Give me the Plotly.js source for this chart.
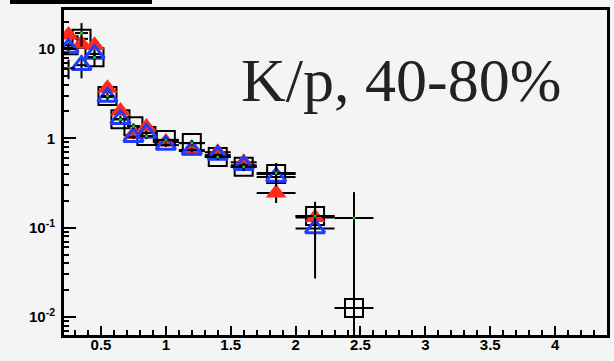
<!DOCTYPE html>
<html>
<head>
<meta charset="utf-8">
<script src="https://cdn.plot.ly/plotly-3.0.1.min.js"></script>
<style>
  html, body { margin: 0; padding: 0; background: #f4f4f4; }
  #plot { width: 614px; height: 361px; }
</style>
</head>
<body>
<div id="plot"></div>
<script>
// pT bin centres (GeV/c) and half-widths
const pt    = [0.25, 0.35, 0.45, 0.55, 0.65, 0.75, 0.85, 1.0, 1.2, 1.4, 1.6, 1.85, 2.15, 2.45];
const ptErr = [0.05, 0.05, 0.05, 0.05, 0.05, 0.05, 0.05, 0.1, 0.1, 0.1, 0.1, 0.15, 0.15, 0.15];

// reference points (black error bars, small green centre dot)
const refVal = [6.1, 15.1, 8.1, 2.98, 1.64, 1.37, 1.06, 0.96, 0.885, 0.62, 0.48, 0.41, 0.135, 0.128];
const refErr = [1.5, 4.4, 1.7, 0.3, 0.15, 0.1, 0.08, 0.06, 0.06, 0.05, 0.05, 0.12, 0.06, 0.122];

// open black squares
const sqVal = [11.0, 13.0, 8.1, 2.98, 1.64, 1.37, 1.06, 0.96, 0.885, 0.62, 0.48, 0.40, 0.135, 0.0126];
const sqErr = [0.8, 0.9, 0.5, 0.15, 0.08, 0.07, 0.05, 0.04, 0.04, 0.03, 0.03, 0.03, 0.01, 0.002];

// full red triangles
const redVal = [14.4, 11.4, 11.0, 3.65, 2.02, 1.11, 1.34, 0.91, 0.72, 0.70, 0.54, 0.245, 0.13, null];
const redErr = [1.0, 0.9, 0.8, 0.2, 0.1, 0.06, 0.07, 0.05, 0.04, 0.04, 0.03, 0.056, 0.02, null];

// open blue triangles
const blueVal = [10.3, 6.6, 8.8, 2.9, 1.64, 1.03, 1.15, 0.84, 0.74, 0.65, 0.50, 0.37, 0.098, null];
const blueErr = [0.8, 1.9, 0.6, 0.15, 0.08, 0.05, 0.06, 0.04, 0.04, 0.03, 0.03, 0.03, 0.071, null];

// axis tick labels
const yTickVals = [0.01, 0.1, 1, 10];
const yTickText = ['10<sup>-2</sup>', '10<sup>-1</sup>', '1', '10'];
const label = 'K/p, 40-80%';

function bars(err, xe) {
  return {
    ex: { type: 'data', array: xe, visible: true, color: 'black', thickness: 2, width: 0 },
    ey: { type: 'data', array: err, visible: true, color: 'black', thickness: 2, width: 0 }
  };
}

const sqB = bars(sqErr, ptErr), redB = bars(redErr, ptErr), blueB = bars(blueErr, ptErr), refB = bars(refErr, ptErr);

const traces = [
  {
    x: pt, y: sqVal, type: 'scatter', mode: 'markers',
    error_x: sqB.ex, error_y: sqB.ey,
    marker: { symbol: 'square-open', size: 18, color: 'black', line: { width: 2, color: 'black' } }
  },
  {
    x: pt, y: redVal, type: 'scatter', mode: 'markers',
    error_x: redB.ex, error_y: redB.ey,
    marker: { symbol: 'triangle-up', size: 18, color: '#ff2a1a', line: { width: 0 } }
  },
  {
    x: pt, y: blueVal, type: 'scatter', mode: 'markers',
    error_x: blueB.ex, error_y: blueB.ey,
    marker: { symbol: 'triangle-up-open', size: 17, color: '#1f3cff', line: { width: 3, color: '#1f3cff' } }
  },
  {
    x: pt, y: refVal, type: 'scatter', mode: 'markers',
    error_x: refB.ex, error_y: refB.ey,
    marker: { symbol: 'circle', size: 3, color: '#10d020', line: { width: 0 } }
  }
];

const layout = {
  width: 614, height: 361,
  margin: { l: 64, r: 7, t: 10, b: 26 },
  paper_bgcolor: '#f4f4f4',
  plot_bgcolor: '#f4f4f4',
  showlegend: false,
  font: { family: 'Liberation Sans, Arial, sans-serif', color: 'black' },
  xaxis: {
    range: [0.215, 4.40],
    showgrid: false, zeroline: false,
    showline: true, linecolor: 'black', linewidth: 3, mirror: true,
    ticks: 'inside', ticklen: 9, tickwidth: 2, tickcolor: 'black',
    tick0: 0, dtick: 0.5,
    minor: { ticks: 'inside', ticklen: 5, tickwidth: 2, tickcolor: 'black', dtick: 0.1 },
    tickfont: { size: 15, weight: 'bold', color: 'black' }
  },
  yaxis: {
    type: 'log',
    range: [-2.2016, 1.437],
    showgrid: false, zeroline: false,
    showline: true, linecolor: 'black', linewidth: 3, mirror: true,
    ticks: 'inside', ticklen: 12, tickwidth: 2, tickcolor: 'black',
    tickmode: 'array', tickvals: yTickVals, ticktext: yTickText,
    minor: { ticks: 'inside', ticklen: 5, tickwidth: 2, tickcolor: 'black', dtick: 'D1' },
    tickfont: { size: 15, weight: 'bold', color: 'black' },
    ticklabelstandoff: 3
  },
  shapes: [
    { type: 'rect', xref: 'paper', yref: 'paper',
      x0: -0.0994, x1: 0.162, y0: 1.0185, y1: 1.04,
      fillcolor: 'black', line: { width: 0 } }
  ],
  annotations: [
    { xref: 'paper', yref: 'paper', x: 0.322, y: 0.785,
      xanchor: 'left', yanchor: 'middle', showarrow: false,
      text: label,
      font: { family: 'Liberation Serif, Times New Roman, serif', size: 62, color: '#222222' } }
  ]
};

Plotly.newPlot('plot', traces, layout, { displayModeBar: false, staticPlot: true }).then(function (gd) {
  // pull the x tick labels a little closer to the axis line
  gd.querySelectorAll('g.xtick').forEach(function (g) {
    g.setAttribute('transform', 'translate(0,-6)');
  });
});
</script>
</body>
</html>
